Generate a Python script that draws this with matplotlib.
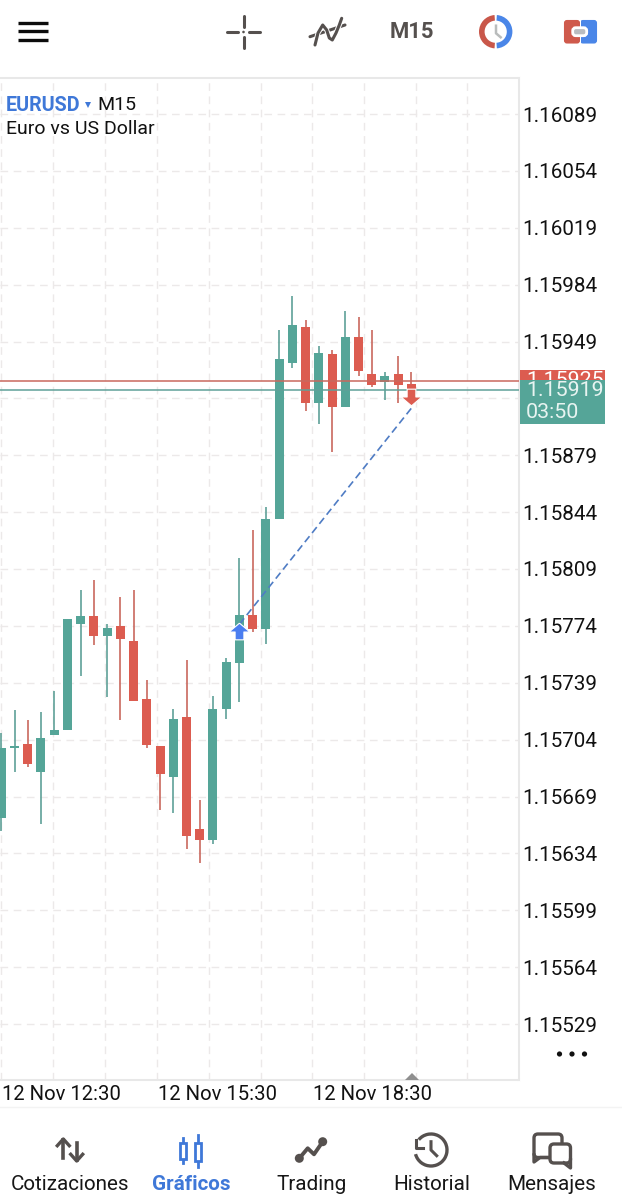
import numpy as np
import matplotlib
matplotlib.use('Agg')
import matplotlib.pyplot as plt
from matplotlib.patches import Wedge, FancyBboxPatch, Rectangle, Circle, Arc, Polygon

plt.rcParams['font.family'] = ['Roboto', 'DejaVu Sans']

# prices in points (1.15656 -> 115656), one entry per M15 candle
opens = [115656, 115699, 115701, 115684, 115707, 115710, 115775, 115780, 115768, 115774, 115765,
         115729, 115700, 115681, 115718, 115649, 115642, 115723, 115751, 115781, 115772, 115840,
         115936, 115958, 115911, 115941, 115909, 115952, 115929, 115924, 115929, 115923]
closes = [115699, 115700, 115689, 115705, 115710, 115778, 115780, 115768, 115773, 115766, 115728,
          115701, 115683, 115717, 115645, 115642, 115723, 115752, 115781, 115772, 115840, 115938,
          115959, 115911, 115942, 115909, 115952, 115931, 115922, 115928, 115922, 115919]
highs = [115708, 115722, 115716, 115721, 115734, 115778, 115796, 115802, 115775, 115792, 115796,
         115741, 115700, 115723, 115753, 115667, 115731, 115754, 115816, 115833, 115847, 115956,
         115977, 115962, 115946, 115944, 115968, 115964, 115956, 115930, 115940, 115930]
lows = [115648, 115684, 115687, 115652, 115707, 115710, 115743, 115762, 115730, 115716, 115728,
        115699, 115661, 115659, 115637, 115628, 115640, 115717, 115727, 115770, 115763, 115840,
        115933, 115906, 115898, 115881, 115909, 115928, 115921, 115913, 115911, 115916]

price_ticks = [1.16089, 1.16054, 1.16019, 1.15984, 1.15949, 1.15914, 1.15879, 1.15844, 1.15809,
               1.15774, 1.15739, 1.15704, 1.15669, 1.15634, 1.15599, 1.15564, 1.15529]
time_labels = ['12 Nov 12:30', '12 Nov 15:30', '12 Nov 18:30']
nav_labels = ['Cotizaciones', 'Gráficos', 'Trading', 'Historial', 'Mensajes']

ask_price = 1.15925
bid_price = 1.15919
countdown = '03:50'
entry_candle, entry_price = 18, 1.15771
exit_candle, exit_price = 31, 1.15908

TEAL = '#55a598'
RED = '#dc5c50'
BLUE = '#3f78d8'
DARK = '#55504e'
GRID = '#ece9e9'

W, H = 622, 1200
fig = plt.figure(figsize=(W / 100, H / 100), dpi=100, facecolor='white')

# chart area, pixel box of the frame
L, R, T, B = 0, 518.5, 78, 1079.5
ax = fig.add_axes([L / W, 1 - B / H, (R - L) / W, (B - T) / H])

px_per_candle = 13.23
x0_px = 1.3
px_per_price = 162500.0
ax.set_xlim((L - x0_px) / px_per_candle, (R - x0_px) / px_per_candle)
ax.set_ylim(1.16089 - (B - 114) / px_per_price, 1.16089 + (114 - T) / px_per_price)

x = np.arange(len(opens))
o = np.array(opens) / 1e5
c = np.array(closes) / 1e5
h = np.array(highs) / 1e5
l = np.array(lows) / 1e5
up = c >= o
colors = [TEAL if u else RED for u in up]
wick_colors = ['#5fa198' if u else '#c9685e' for u in up]

ax.vlines(x, l, h, colors=wick_colors, linewidth=1.2, zorder=3)
ax.bar(x, np.abs(c - o), bottom=np.minimum(o, c), width=0.68, color=colors, linewidth=0, zorder=4)

ax.axhline(ask_price, color='#c9685e', linewidth=1.1, zorder=5)
ax.axhline(bid_price, color='#5fa198', linewidth=1.1, zorder=5)

# the deal: dashed line between the entry and exit arrows
ax.plot([entry_candle, exit_candle], [entry_price + 0.00004, exit_price], color='#4f7cc4',
        linewidth=1.2, linestyle=(0, (4.5, 2.5)), zorder=6)
arrow_up = [(0, 0.8), (1, -0.05), (0.42, -0.05), (0.42, -0.8), (-0.42, -0.8), (-0.42, -0.05), (-1, -0.05), (0, 0.8)]
arrow_down = [(a, -b) for a, b in arrow_up]
ax.plot([entry_candle], [entry_price], marker=arrow_up, markersize=15, color='#4a7df0',
        markeredgecolor='white', markeredgewidth=0.8, zorder=7)
ax.plot([exit_candle], [exit_price + 0.00007], marker=arrow_down, markersize=15, color=RED,
        markeredgecolor='white', markeredgewidth=0.8, zorder=7)

ax.set_yticks(price_ticks)
ax.set_yticklabels(['%.5f' % p for p in price_ticks], fontsize=14.9, color='#111111')
ax.yaxis.tick_right()
ax.tick_params(axis='y', length=0, pad=2.6)
ax.set_xticks((np.array([1, 53, 104.8, 156.7, 208.7, 260.7, 312.3, 364.3, 416, 467.5]) - x0_px) / px_per_candle)
ax.tick_params(axis='x', length=0, labelbottom=False)
ax.grid(True, color=GRID, linewidth=1.0, linestyle=(0, (5.5, 4)), zorder=0)
ax.set_axisbelow(True)
ax.spines['left'].set_visible(False)
for s in ['top', 'right', 'bottom']:
    ax.spines[s].set_color('#e8e8e8')
    ax.spines[s].set_linewidth(1.5)

# everything around the chart is drawn in pixel coords
ov = fig.add_axes([0, 0, 1, 1], facecolor='none')
ov.set_xlim(0, W)
ov.set_ylim(H, 0)
ov.axis('off')

# price tags
ov.add_patch(Rectangle((520, 369.5), 85, 12, color=RED, linewidth=0, zorder=2))
ov.text(526, 380, '%.5f' % ask_price, fontsize=15.4, color='white', va='center', zorder=2.5,
        clip_on=True, clip_path=Rectangle((520, 369.5), 85, 10.5, transform=ov.transData))
ov.add_patch(Rectangle((520, 379.5), 85, 44.5, color=TEAL, linewidth=0, zorder=3))
ov.text(526, 390.5, '%.5f' % bid_price, fontsize=15.4, color='#e8f4f1', va='center', zorder=4)
ov.text(526, 413, countdown, fontsize=15.4, color='#e8f4f1', va='center', zorder=4)

# symbol header
ov.text(6, 105.5, 'EURUSD', fontsize=14.2, color=BLUE, fontweight='bold', va='center')
ov.add_patch(Polygon([(85, 102), (91, 102), (88, 108)], color=BLUE, linewidth=0))
ov.text(97, 105.5, 'M15', fontsize=14, color='#111111', va='center')
ov.text(6, 129.5, 'Euro vs US Dollar', fontsize=14, color='#111111', va='center')

# time axis and the little bits at its end
for px, lab in zip([2, 157.5, 313], time_labels):
    ov.text(px, 1094, lab, fontsize=14.6, color='#111111', va='center')
ov.add_patch(Polygon([(405, 1080), (419, 1080), (412, 1073)], color='#8f8f8f', linewidth=0))
for px in [559.5, 572, 584.5]:
    ov.add_patch(Circle((px, 1054), 2.6, color='#111111', linewidth=0))
ov.plot([0, W], [1106.5, 1106.5], color='#f3f3f3', linewidth=1)

# top bar: hamburger
for y in [22.5, 31, 40]:
    ov.plot([18, 48], [y, y], color='#0c0c0c', linewidth=2.4, solid_capstyle='butt')
# crosshair
for seg in [((227, 32), (238, 32)), ((249, 32), (260, 32)), ((243.5, 16), (243.5, 27)), ((243.5, 37), (243.5, 48))]:
    ov.plot(*zip(*seg), color=DARK, linewidth=2.2, solid_capstyle='round')
ov.add_patch(Circle((243.5, 32), 1.3, color=DARK, linewidth=0))
# indicators squiggle, diagonal stroke with the wave over it
ov.plot([310, 345], [36.7, 25], color=DARK, linewidth=2.2, solid_capstyle='round')
wave_x = [315, 318, 322.7, 326.7, 329.3, 332.3, 336, 339.3, 341.7]
wave_y = [45, 33, 25, 30, 38, 40, 33, 25, 18.3]
ov.plot(wave_x, wave_y, color='white', linewidth=3.6)
ov.plot(wave_x, wave_y, color=DARK, linewidth=2.2, solid_capstyle='round')
ov.text(411.5, 32, 'M15', fontsize=15.8, color=DARK, fontweight='bold', ha='center', va='center')
# clock
ov.add_patch(Wedge((495.7, 31.7), 16.7, 94, 266, width=5.6, color='#c9574a', linewidth=0))
ov.add_patch(Wedge((495.7, 31.7), 16.7, -86, 86, width=5.6, color='#4a86e8', linewidth=0))
ov.plot([496, 496, 500.7], [25.7, 33.3, 37.3], color='#b9bcbc', linewidth=1.8)
# account icon
ov.add_patch(FancyBboxPatch((565, 21), 14, 21.5, boxstyle='round,pad=0,rounding_size=2', color='#cf5a4c', linewidth=1.5))
ov.add_patch(FancyBboxPatch((581, 21), 15, 21.5, boxstyle='round,pad=0,rounding_size=2', color='#4a86e8', linewidth=1.5))
ov.add_patch(Rectangle((579.5, 20), 1.2, 23.5, color='white', linewidth=0))
ov.add_patch(FancyBboxPatch((572.7, 27.7), 14, 8, boxstyle='round,pad=0,rounding_size=3', facecolor='#b9bdc1',
                            edgecolor='white', linewidth=2))

# bottom nav
for px, lab in zip([69.5, 191, 311.5, 432, 552], nav_labels):
    active = lab == 'Gráficos'
    ov.text(px, 1184, lab, fontsize=14.9, ha='center', va='center', color=BLUE if active else '#161616',
            fontweight='bold' if active else 'normal')
# cotizaciones arrows
ov.plot([63.3, 63.3], [1158, 1140], color=DARK, linewidth=2.6)
ov.plot([57.3, 63.3, 69.3], [1145.7, 1139, 1145.7], color=DARK, linewidth=2.4)
ov.plot([76.7, 76.7], [1143, 1160], color=DARK, linewidth=2.6)
ov.plot([70.7, 76.7, 82.7], [1154.3, 1161, 1154.3], color=DARK, linewidth=2.4)
# graficos candles
for px, y1, y2, b1, b2 in [(182.7, 1138, 1163, 1143, 1159), (198.3, 1135, 1167, 1142.5, 1160.5)]:
    ov.plot([px, px], [y1, y2], color=BLUE, linewidth=2)
    ov.add_patch(Rectangle((px - 3, b1), 6, b2 - b1, facecolor='white', edgecolor=BLUE, linewidth=2, zorder=3))
# trading line
tx = [299.3, 307.7, 314, 322.7]
ty = [1158.3, 1148.3, 1154.3, 1141.7]
ov.plot(tx, ty, color=DARK, linewidth=2.8)
ov.add_patch(Circle((tx[0], ty[0]), 4.5, color=DARK, linewidth=0))
ov.add_patch(Circle((tx[3], ty[3]), 4.5, color=DARK, linewidth=0))
# historial clock
ov.add_patch(Arc((431, 1150), 32, 32, theta1=-140, theta2=165, color=DARK, linewidth=2.4))
ov.plot([415.7, 415.7, 423.3], [1140, 1147.7, 1147.7], color=DARK, linewidth=2.2)
ov.plot([431, 431, 436.7], [1141.7, 1150, 1155.7], color=DARK, linewidth=2.2)
# mensajes bubbles
ov.add_patch(FancyBboxPatch((534, 1134), 28, 23.5, boxstyle='round,pad=0,rounding_size=4', facecolor='white',
                            edgecolor=DARK, linewidth=2.4, zorder=2))
ov.add_patch(FancyBboxPatch((550, 1144), 20.5, 19, boxstyle='round,pad=0,rounding_size=4', facecolor='white',
                            edgecolor=DARK, linewidth=2.4, zorder=3))
ov.plot([534, 534, 540, 549], [1155, 1162, 1157.5, 1157.5], color=DARK, linewidth=2.4, zorder=4)
ov.plot([570.5, 570.5, 564], [1160, 1168, 1163], color=DARK, linewidth=2.4, zorder=4)

fig.savefig('out.png', dpi=100, facecolor='white')
